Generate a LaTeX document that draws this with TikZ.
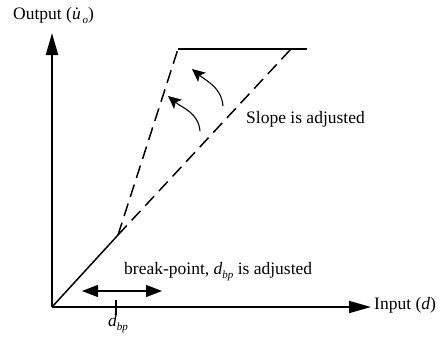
\documentclass[tikz,border=0pt]{standalone}
\usepackage{fontspec}
\setmainfont{Liberation Serif}
\usetikzlibrary{arrows.meta, positioning}
\newcommand{\lowsub}[1]{\raisebox{-4pt}{\fontsize{11}{11}\selectfont\textit{#1}}}
\tikzset{
  axisline/.style={line width=1.8pt, -{Triangle[length=22pt, width=12pt]}},
  curveline/.style={line width=1.5pt},
  dashline/.style={line width=1.5pt, dash pattern=on 13pt off 7pt},
  slopearrow/.style={line width=1.1pt, -{Stealth[length=13pt, width=12pt, inset=3pt]}},
  shiftarrow/.style={line width=1.1pt, {Triangle[length=16pt, width=12pt]}-{Triangle[length=16pt, width=12pt]}},
  label/.style={font=\fontsize{17.5}{20}\selectfont, inner sep=0pt},
}

\begin{document}
\begin{tikzpicture}[x=1pt, y=-1pt]
\useasboundingbox (0,0) rectangle (444,343);
% axes
\coordinate (origin) at (52,307);
\coordinate (ytip) at (52,33);
\coordinate (xtip) at (371,307);
\draw[axisline] (origin) -- (ytip);
\draw[axisline] (origin) -- (xtip);
\node[label, anchor=west] (xlabel) at (374,305) {Input (\textit{d})};
\node[label, anchor=west] (ylabel) at (13,15) {Output (\textit{\.u}\kern-3pt\lowsub{o})};

% characteristic
\coordinate (kink) at (118,235);
\coordinate (steep) at (178,49);
\coordinate (shallow) at (291,49);
\coordinate (satend) at (307,49);
\draw[curveline] (origin) -- (kink);
\draw[dashline] (kink) -- (steep);
\draw[dashline] (kink) -- (shallow);
\draw[curveline] (steep) -- (satend);

% slope arrows
\coordinate (arcAstart) at (200,131);
\coordinate (arcAend) at (168,96);
\coordinate (arcBstart) at (223,106);
\coordinate (arcBend) at (192,69);
\draw[slopearrow] (arcAstart) to[out=95, in=-40] (arcAend);
\draw[slopearrow] (arcBstart) to[out=95, in=-40] (arcBend);
\node[label, anchor=west] (slope) at (246,119) {Slope is adjusted};

% break-point
\coordinate (bpleft) at (82,291);
\coordinate (bpright) at (162,291);
\coordinate (ticktop) at (116,300);
\coordinate (tickbot) at (116,315);
\draw[shiftarrow] (bpleft) -- (bpright);
\draw[line width=1.8pt] (ticktop) -- (tickbot);
\node[label, anchor=west] (bplabel) at (108,324) {\textit{d}\lowsub{bp}};
\node[label, anchor=west] (bptext) at (124,272) {break-point, \textit{d}\lowsub{bp} is adjusted};
\end{tikzpicture}
\end{document}
